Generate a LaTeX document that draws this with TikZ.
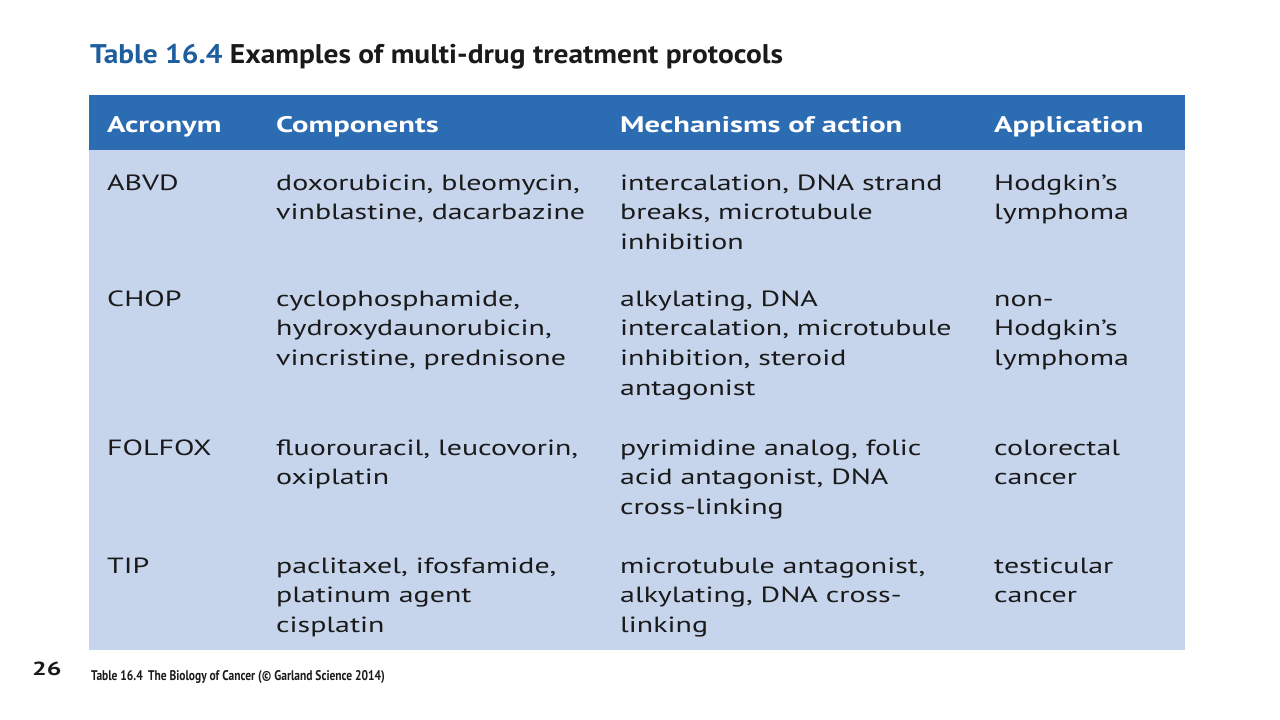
\documentclass[tikz,border=0pt]{standalone}
\usepackage{fontspec}
\setmainfont{PT Sans}[FakeStretch=1.36]
\newfontfamily\titlefont{PT Sans}[FakeStretch=1.09]
\newfontfamily\captfont{PT Sans}[FakeStretch=0.82]
\usepackage{tikz}
\definecolor{headblue}{HTML}{2B6CB3}
\definecolor{bodyblue}{HTML}{C6D4EC}
\definecolor{titleblue}{HTML}{1F5E9E}
\definecolor{inkdark}{HTML}{1A1A1A}

\begin{document}
\begin{tikzpicture}[x=1pt,y=-1pt,
  cell/.style={anchor=north west, inner sep=0pt, align=left, text=inkdark,
    font=\fontsize{22}{29.8}\selectfont},
  headcell/.style={anchor=base west, inner sep=0pt, text=white,
    font=\fontsize{22.5}{29.8}\selectfont\bfseries}]
  \useasboundingbox (0,0) rectangle (1280,720);
  \fill[white] (0,0) rectangle (1280,720);

  % title
  \node[anchor=base west, inner sep=0pt, font=\fontsize{27}{32}\selectfont\titlefont\bfseries]
    (title) at (90,63) {\textcolor{titleblue}{Table 16.4} \textcolor{inkdark}{Examples of multi-drug treatment protocols}};

  % table background
  \fill[bodyblue] (89,150) rectangle (1185,650);
  \fill[headblue] (89,95) rectangle (1185,150);

  % header
  \node[headcell] (hacr)  at (107,132) {Acronym};
  \node[headcell] (hcomp) at (276,132) {Components};
  \node[headcell] (hmech) at (620,132) {Mechanisms of action};
  \node[headcell] (happ)  at (994,132) {Application};

  % ABVD
  \node[cell] (abvd)  at (107,169.1) {\strut ABVD};
  \node[cell] (abvdc) at (276,169.1) {\strut doxorubicin, bleomycin,\\vinblastine, dacarbazine};
  \node[cell] (abvdm) at (620,169.1) {\strut intercalation, DNA strand\\breaks, microtubule\\inhibition};
  \node[cell] (abvda) at (994,169.1) {\strut Hodgkin’s\\lymphoma};

  % CHOP
  \node[cell] (chop)  at (107,285.1) {\strut CHOP};
  \node[cell] (chopc) at (276,285.1) {\strut cyclophosphamide,\\hydroxydaunorubicin,\\vincristine, prednisone};
  \node[cell] (chopm) at (620,285.1) {\strut alkylating, DNA\\intercalation, microtubule\\inhibition, steroid\\antagonist};
  \node[cell] (chopa) at (994,285.1) {\strut non-\\Hodgkin’s\\lymphoma};

  % FOLFOX
  \node[cell] (folf)  at (107,434.1) {\strut FOLFOX};
  \node[cell] (folfc) at (276,434.1) {\strut fluorouracil, leucovorin,\\oxiplatin};
  \node[cell] (folfm) at (620,434.1) {\strut pyrimidine analog, folic\\acid antagonist, DNA\\cross-linking};
  \node[cell] (folfa) at (994,434.1) {\strut colorectal\\cancer};

  % TIP
  \node[cell] (tip)  at (107,552.1) {\strut TIP};
  \node[cell] (tipc) at (276,552.1) {\strut paclitaxel, ifosfamide,\\platinum agent\\cisplatin};
  \node[cell] (tipm) at (620,552.1) {\strut microtubule antagonist,\\alkylating, DNA cross-\\linking};
  \node[cell] (tipa) at (994,552.1) {\strut testicular\\cancer};

  % footer
  \node[anchor=base west, inner sep=0pt, font=\fontsize{19}{22}\selectfont\bfseries, text=inkdark]
    (pagenum) at (32,675) {26};
  \node[anchor=base west, inner sep=0pt, font=\fontsize{14}{16}\selectfont\captfont\bfseries, text=inkdark]
    (caption) at (91,680) {Table 16.4 \,The Biology of Cancer (© Garland Science 2014)};
\end{tikzpicture}
\end{document}
